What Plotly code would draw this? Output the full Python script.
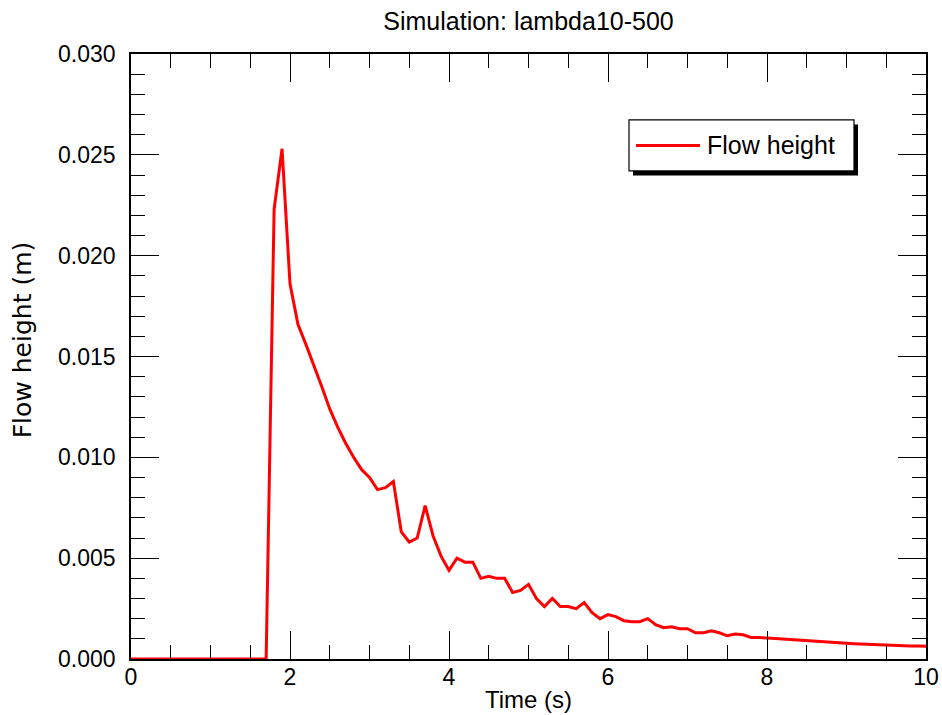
import plotly.graph_objects as go

# Time (s), step 0.1 from 0 to 10
time_s = [round(i * 0.1, 1) for i in range(101)]

# Flow height (m)
flow_height = (
    [0.0] * 18  # 0.0 .. 1.7
    + [0.0223, 0.0253,                          # 1.8, 1.9
       0.0186, 0.0166, 0.0156, 0.0146, 0.0135,  # 2.0 - 2.4
       0.0124, 0.0115, 0.0107, 0.0100, 0.0094,  # 2.5 - 2.9
       0.0090, 0.0084, 0.0085, 0.0088, 0.0063,  # 3.0 - 3.4
       0.0058, 0.0060, 0.0076, 0.0061, 0.0051,  # 3.5 - 3.9
       0.0044, 0.0050, 0.0048, 0.0048, 0.0040,  # 4.0 - 4.4
       0.0041, 0.0040, 0.0040, 0.0033, 0.0034,  # 4.5 - 4.9
       0.0037, 0.0030, 0.0026, 0.0030, 0.0026,  # 5.0 - 5.4
       0.0026, 0.0025, 0.0028, 0.0023, 0.0020,  # 5.5 - 5.9
       0.0022, 0.0021, 0.0019, 0.00185, 0.00185,  # 6.0 - 6.4
       0.0020, 0.0017, 0.00155, 0.0016, 0.0015,   # 6.5 - 6.9
       0.0015, 0.0013, 0.0013, 0.0014, 0.0013,    # 7.0 - 7.4
       0.00115, 0.00124, 0.0012, 0.00107, 0.00106,  # 7.5 - 7.9
       0.00105, 0.00102, 0.00099, 0.00096, 0.00094,  # 8.0 - 8.4
       0.00091, 0.00088, 0.00086, 0.00083, 0.00081,  # 8.5 - 8.9
       0.00078, 0.00076, 0.00074, 0.00072, 0.00070,  # 9.0 - 9.4
       0.00068, 0.00067, 0.00066, 0.00065, 0.00064,  # 9.5 - 9.9
       0.00063]                                      # 10.0
)

x_tickvals = [0, 2, 4, 6, 8, 10]
y_tickvals = [0.0, 0.005, 0.010, 0.015, 0.020, 0.025, 0.030]
y_ticktext = ["0.000", "0.005", "0.010", "0.015", "0.020", "0.025", "0.030"]

FONT = "Liberation Sans, Arial, Helvetica, sans-serif"
WIDE = "DejaVu Sans, Liberation Sans, sans-serif"

fig = go.Figure()
fig.add_trace(go.Scatter(
    x=time_s, y=flow_height, mode="lines",
    line=dict(color="#ff0000", width=3),
    name="Flow height", showlegend=False,
))

axis_common = dict(
    showgrid=False, zeroline=False, automargin=False,
    showline=True, linecolor="black", linewidth=1.5,
    ticks="inside", tickcolor="black", tickwidth=1, ticklen=28,
    mirror="ticks",
    tickfont=dict(family=FONT, size=23, color="black"),
)

fig.update_xaxes(
    range=[0, 10], tickvals=x_tickvals,
    minor=dict(dtick=0.5, ticks="inside", ticklen=14, tickwidth=1, tickcolor="black"),
    title=dict(text="Time (s)", font=dict(family=FONT, size=24, color="black"), standoff=2),
    ticklabelstandoff=-3,
    **axis_common,
)
fig.update_yaxes(
    range=[0, 0.030], tickvals=y_tickvals, ticktext=y_ticktext,
    minor=dict(dtick=0.001, ticks="inside", ticklen=14, tickwidth=1, tickcolor="black"),
    ticklabelstandoff=9,
    **axis_common,
)

# Legend box drawn manually (with drop shadow)
shapes = [
    dict(type="rect", xref="paper", yref="paper",
         x0=(633 - 131) / 795, x1=(858 - 131) / 795,
         y0=(659 - 175) / 605.5, y1=(659 - 124) / 605.5,
         fillcolor="black", line=dict(width=0), layer="above"),
    dict(type="rect", xref="paper", yref="paper",
         x0=(629 - 131) / 795, x1=(854 - 131) / 795,
         y0=(659 - 170.5) / 605.5, y1=(659 - 119.5) / 605.5,
         fillcolor="white", line=dict(color="black", width=1.2), layer="above"),
    dict(type="line", xref="paper", yref="paper",
         x0=(636 - 131) / 795, x1=(700 - 131) / 795,
         y0=(659 - 145) / 605.5, y1=(659 - 145) / 605.5,
         line=dict(color="#ff0000", width=3), layer="above"),
]
annotations = [
    dict(text="Flow height", xref="paper", yref="paper",
         x=(705 - 131) / 795, y=(659 - 145) / 605.5,
         xanchor="left", yanchor="middle", showarrow=False,
         font=dict(family=FONT, size=25, color="black")),
    # y-axis title
    dict(text="Flow height (m)", xref="paper", yref="paper",
         x=(22 - 131) / 795, y=(659 - 340) / 605.5,
         xanchor="center", yanchor="middle", textangle=-90, showarrow=False,
         font=dict(family=WIDE, size=25, color="black")),
]

fig.update_layout(
    width=942, height=715,
    margin=dict(l=131, r=16, t=54, b=56),
    paper_bgcolor="white", plot_bgcolor="white",
    title=dict(text="Simulation: lambda10-500", x=528.5 / 942, xanchor="center",
               y=1 - 21 / 715, yanchor="middle",
               font=dict(family=FONT, size=25, color="black")),
    shapes=shapes, annotations=annotations,
    font=dict(family=FONT),
)

fig.write_html(
    "out.html",
    config={"displayModeBar": False},
    post_script="document.body.style.margin='0';document.body.style.padding='0';",
)
